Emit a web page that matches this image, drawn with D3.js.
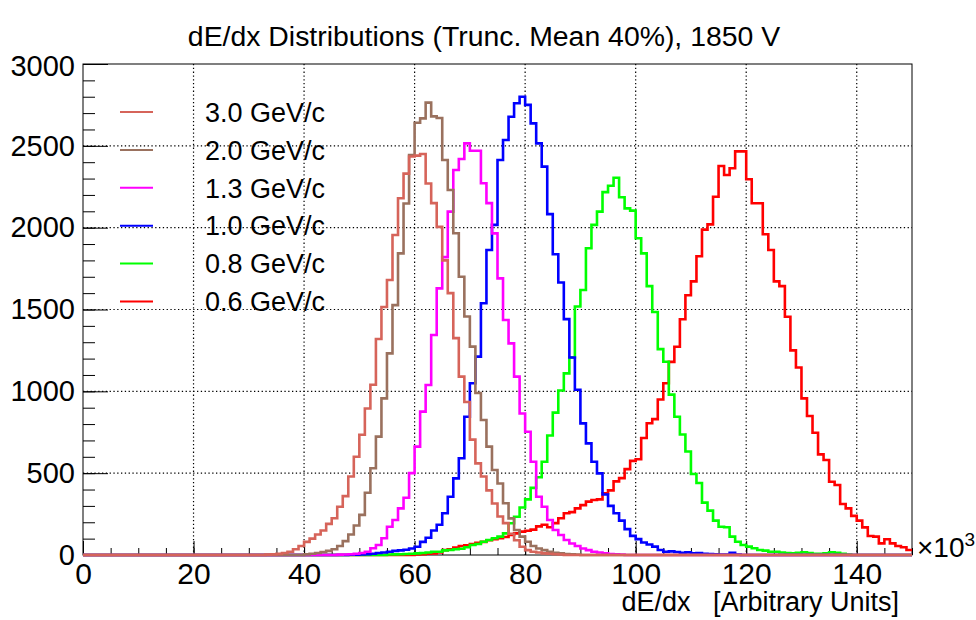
<!DOCTYPE html>
<html>
<head>
<meta charset="utf-8">
<script src="https://cdn.jsdelivr.net/npm/d3@7"></script>
<style>
body{margin:0;background:#fff;}
svg text{font-family:"Liberation Sans",Arial,Helvetica,sans-serif;fill:#000;}
</style>
</head>
<body>
<div id="chart"></div>
<script>
// histogram contents per bin (bin width 1, in units of 10^3), listed from the first filled bin
var labels = ["3.0 GeV/c", "2.0 GeV/c", "1.3 GeV/c", "1.0 GeV/c", "0.8 GeV/c", "0.6 GeV/c"];
var colors = ["#d6645a", "#9a715e", "#ff00ff", "#0000ff", "#00ff00", "#ff0000"];

var start30 = 33;
var counts30 = [2, 4, 7, 12, 20, 35, 55, 80, 100, 125, 150, 190, 225, 295, 360, 480, 600, 735, 895, 1040,
  1320, 1515, 1680, 1955, 2180, 2330, 2435, 2440, 2450, 2270, 2150, 2005, 1800, 1600, 1325, 1090, 935, 705,
  560, 480, 395, 315, 235, 195, 130, 90, 50, 30, 20, 15, 10, 8, 5, 3];

var start20 = 40;
var counts20 = [4, 8, 12, 18, 25, 35, 55, 85, 125, 180, 245, 380, 530, 723, 957, 1232, 1527, 1843, 2148,
  2444, 2641, 2668, 2764, 2680, 2670, 2413, 2230, 1966, 1700, 1457, 1273, 990, 825, 662, 519, 437, 316,
  224, 153, 112, 81, 55, 40, 30, 20, 14, 10, 6, 4, 2];

var start13 = 46;
var counts13 = [2, 3, 5, 8, 12, 20, 41, 61, 102, 173, 214, 285, 350, 500, 662, 876, 1039, 1344, 1629, 1820,
  2098, 2352, 2420, 2515, 2470, 2470, 2271, 2150, 1965, 1690, 1436, 1293, 1090, 865, 753, 570, 356, 295,
  214, 153, 122, 92, 70, 55, 40, 30, 20, 15, 10, 6, 4, 2];

var start10 = 48;
var counts10 = [2, 2, 3, 5, 8, 12, 15, 20, 25, 28, 32, 40, 50, 80, 105, 150, 185, 255, 356, 468, 591, 845,
  1049, 1212, 1538, 1864, 2017, 2413, 2536, 2678, 2760, 2800, 2750, 2637, 2515, 2373, 2083, 1838, 1665,
  1441, 1207, 1010, 804, 682, 570, 499, 370, 300, 255, 210, 158, 117, 97, 76, 64, 51, 31, 20, 22, 18, 14,
  16, 10, 12, 8, 6, 4, 3, 2, 14, 2];

var start08 = 55;
var counts08 = [3, 4, 5, 6, 8, 10, 12, 15, 20, 20, 28, 31, 35, 38, 47, 61, 67, 81, 92, 102, 112, 132, 194,
  234, 290, 340, 410, 475, 570, 730, 870, 1005, 1110, 1207, 1518, 1619, 1874, 2017, 2098, 2217, 2256, 2305,
  2186, 2118, 2104, 1935, 1843, 1643, 1485, 1258, 1181, 980, 845, 736, 632, 495, 440, 320, 271, 210, 173,
  170, 112, 81, 61, 51, 41, 31, 27, 20, 20, 15, 12, 10, 14, 16, 12, 8, 8, 10, 16, 14, 8, 2];

var start06 = 60;
var counts06 = [3, 5, 8, 10, 15, 30, 35, 45, 55, 60, 67, 75, 80, 90, 96, 102, 110, 122, 132, 143, 148, 155,
  175, 185, 170, 195, 225, 255, 262, 285, 305, 326, 336, 340, 377, 395, 450, 470, 525, 575, 585, 715, 805,
  830, 950, 1049, 1180, 1272, 1440, 1587, 1672, 1825, 1988, 2020, 2189, 2377, 2322, 2363, 2466, 2466, 2296,
  2149, 2149, 1960, 1864, 1672, 1643, 1456, 1250, 1146, 957, 849, 747, 615, 580, 448, 428, 312, 285, 239,
  210, 169, 116, 112, 71, 96, 71, 55, 47, 31];

var xMajor = [0, 20, 40, 60, 80, 100, 120, 140];
var yMajor = [0, 500, 1000, 1500, 2000, 2500, 3000];

var w = 976;
var h = 620;
var nBins = 150;

var svg = d3.select("#chart")
    .append("svg")
    .attr("width", w)
    .attr("height", h);

var x = d3.scaleLinear().domain([0, 150]).range([83, 912]);
var y = d3.scaleLinear().domain([0, 3000]).range([555, 64]);

// dotted grid
svg.append("g").selectAll("line")
    .data(xMajor.filter(function(d){ return d > 0; }))
    .enter().append("line")
    .attr("x1", function(d){ return x(d); })
    .attr("x2", function(d){ return x(d); })
    .attr("y1", y(3000)).attr("y2", y(0))
    .attr("stroke", "#000").attr("stroke-width", 1.2)
    .attr("stroke-dasharray", "1.3,2.5");
svg.append("g").selectAll("line")
    .data(yMajor.filter(function(d){ return d > 0 && d < 3000; }))
    .enter().append("line")
    .attr("x1", x(0)).attr("x2", x(150))
    .attr("y1", function(d){ return y(d); })
    .attr("y2", function(d){ return y(d); })
    .attr("stroke", "#000").attr("stroke-width", 1.2)
    .attr("stroke-dasharray", "1.3,2.5");

// frame
svg.append("rect")
    .attr("x", x(0)).attr("y", y(3000))
    .attr("width", x(150) - x(0)).attr("height", y(0) - y(3000))
    .attr("fill", "none").attr("stroke", "#000").attr("stroke-width", 1);

// axes: ticks point into the frame like ROOT does
var xMinorAxis = d3.axisBottom(x).tickValues(d3.range(0, 151, 5)).tickSize(-7).tickFormat("");
var xAxis = d3.axisBottom(x).tickValues(xMajor).tickSize(-14).tickPadding(8).tickFormat(d3.format("d"));
var yMinorAxis = d3.axisLeft(y).tickValues(d3.range(0, 3001, 100)).tickSize(-12).tickFormat("");
var yAxis = d3.axisLeft(y).tickValues(yMajor).tickSize(-25).tickPadding(8).tickFormat(d3.format("d"));

[[xMinorAxis, "x"], [xAxis, "x"], [yMinorAxis, "y"], [yAxis, "y"]].forEach(function(a){
    var g = svg.append("g")
        .attr("transform", a[1] == "x" ? "translate(0," + y(0) + ")" : "translate(" + x(0) + ",0)")
        .call(a[0]);
    g.select(".domain").remove();
    g.selectAll("line").attr("stroke", "#000");
    g.selectAll("text")
        .style("font-family", "'Liberation Sans', Arial, sans-serif")
        .style("font-size", a[1] == "x" ? "30px" : "29px")
        .attr("fill", "#000");
});
svg.selectAll("g text").filter(function(){ return this.textContent == "3000"; }).attr("dy", "0.38em");

// histograms, drawn from 0.6 GeV/c up to 3.0 GeV/c so the last one lies on top
var hists = [
    {start: start06, counts: counts06, c: 5},
    {start: start08, counts: counts08, c: 4},
    {start: start10, counts: counts10, c: 3},
    {start: start13, counts: counts13, c: 2},
    {start: start20, counts: counts20, c: 1},
    {start: start30, counts: counts30, c: 0}
];

var step = d3.line()
    .x(function(d){ return x(d[0]); })
    .y(function(d){ return y(d[1]); })
    .curve(d3.curveStepAfter);

hists.forEach(function(hh){
    var bins = d3.range(nBins).map(function(){ return 0; });
    hh.counts.forEach(function(v, i){ bins[hh.start + i] = v; });
    var pts = bins.map(function(v, i){ return [i, v]; });
    pts.push([nBins, bins[nBins - 1]]);
    svg.append("path")
        .attr("d", step(pts))
        .attr("fill", "none")
        .attr("stroke", colors[hh.c])
        .attr("stroke-width", 2.6);
});

// legend
var legend = svg.append("g").selectAll("g")
    .data(labels)
    .enter().append("g")
    .attr("transform", function(d, i){ return "translate(0," + (112 + i * 37.9) + ")"; });
legend.append("line")
    .attr("x1", 120).attr("x2", 153)
    .attr("stroke", function(d, i){ return colors[i]; })
    .attr("stroke-width", 2);
legend.append("text")
    .attr("x", 205).attr("dy", "0.36em")
    .style("font-size", "27px")
    .text(function(d){ return d; });

// titles
svg.append("text")
    .attr("x", 484).attr("y", 46)
    .attr("text-anchor", "middle")
    .style("font-size", "28.4px")
    .text("dE/dx Distributions (Trunc. Mean 40%), 1850 V");

svg.append("text")
    .attr("x", 899).attr("y", 611)
    .attr("text-anchor", "end")
    .style("font-size", "27px")
    .style("white-space", "pre")
    .text("dE/dx   [Arbitrary Units]");

var mult = svg.append("text")
    .attr("x", 917).attr("y", 557)
    .style("font-size", "28px");
mult.append("tspan").text("\u00d710");
mult.append("tspan").attr("dy", -11).style("font-size", "19px").text("3");
</script>
</body>
</html>
